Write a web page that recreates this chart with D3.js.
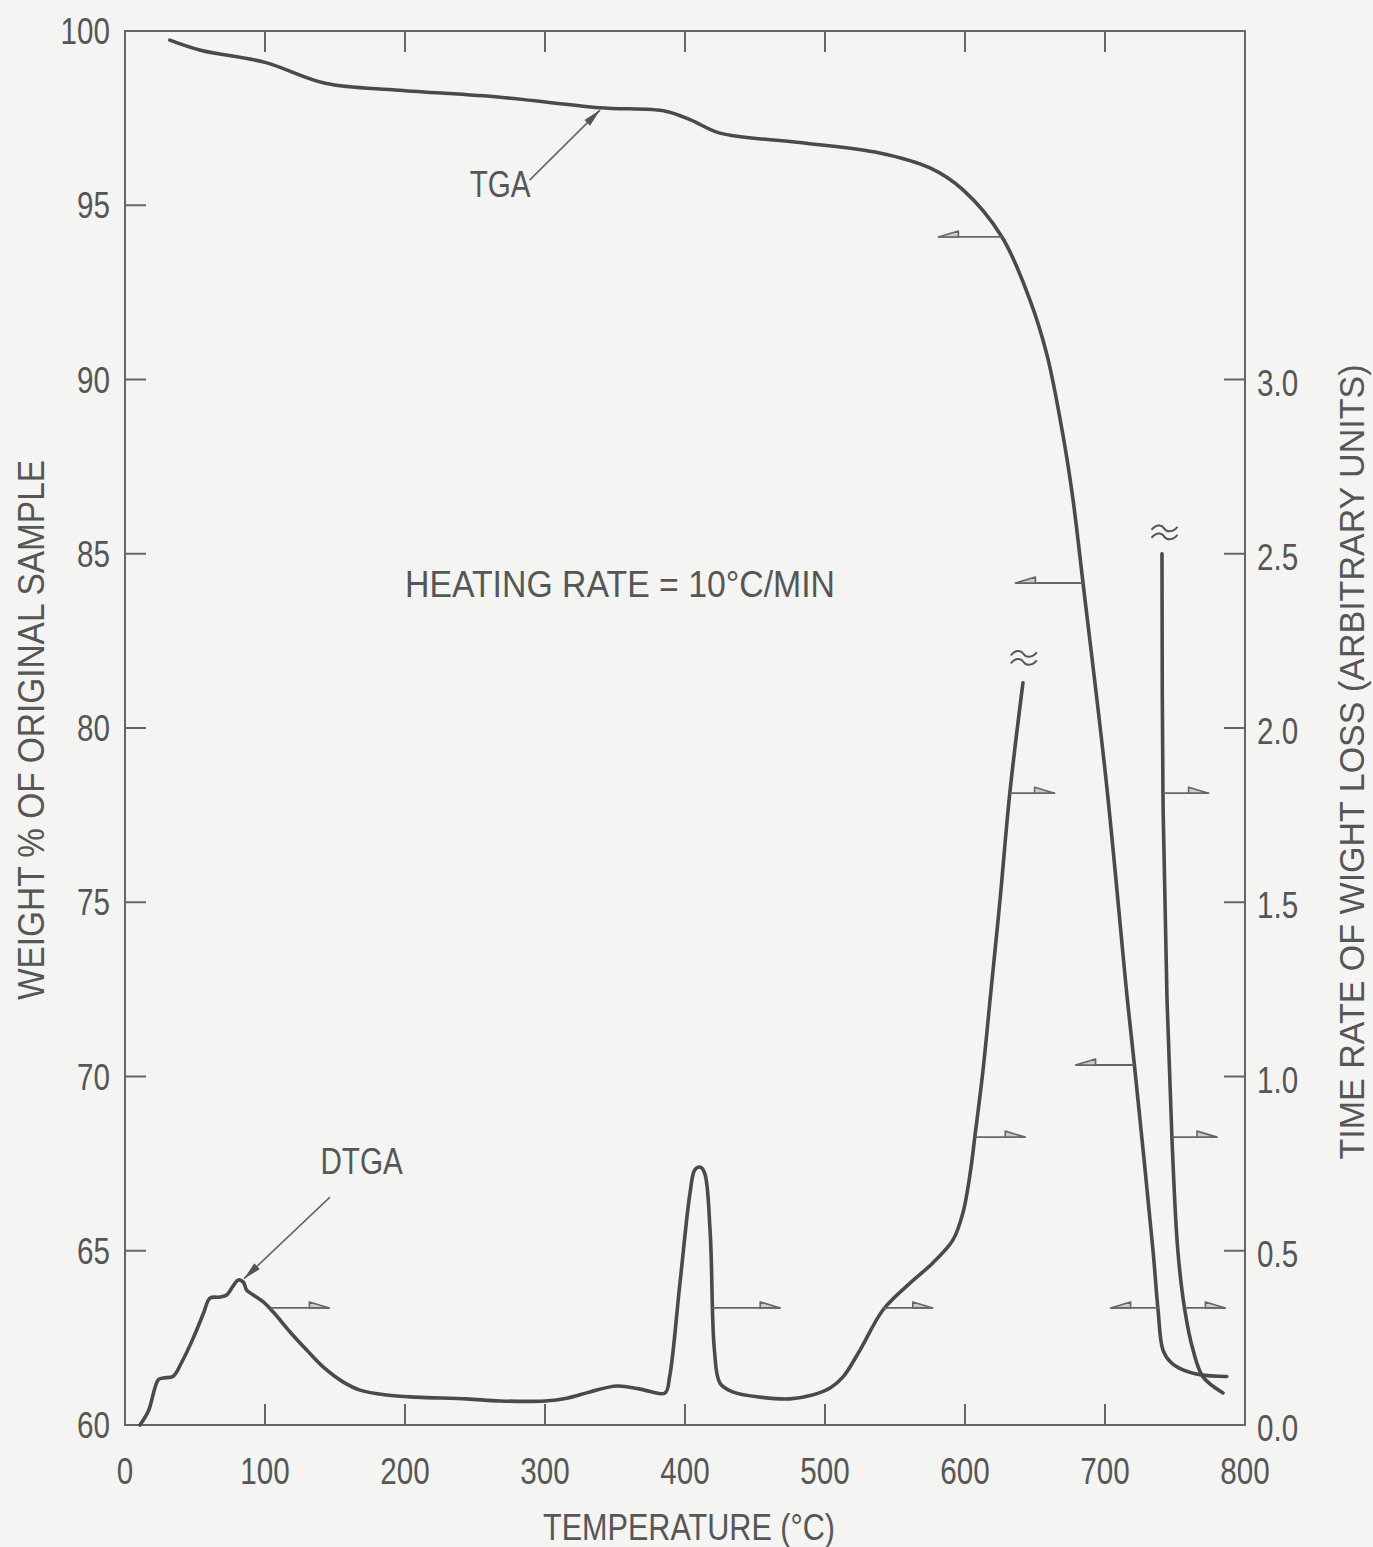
<!DOCTYPE html>
<html>
<head>
<meta charset="utf-8">
<script src="https://cdn.jsdelivr.net/npm/d3@7"></script>
<style>
  html, body { margin: 0; padding: 0; background: #f4f4f3; }
  svg { display: block; }
  text { font-family: "Liberation Sans", Arial, sans-serif; fill: #565656; }
</style>
</head>
<body>
<svg id="chart" width="1373" height="1547"></svg>
<script>
// ---------------- data ----------------
const tempTicks = [0, 100, 200, 300, 400, 500, 600, 700, 800];
const weightTicks = [60, 65, 70, 75, 80, 85, 90, 95, 100];
const rateTicks = [0.0, 0.5, 1.0, 1.5, 2.0, 2.5, 3.0];

// TGA curve: temperature (°C) vs weight % of original sample (left axis)
const tgaTemp   = [32, 54, 100, 143, 196, 268, 339, 386, 404, 425, 482, 539, 575, 598.6, 626.4, 646.4, 658.6, 670, 677, 684.3, 701, 716, 721, 734.3, 737.9, 741.4, 747, 755.7, 767.9, 787];
const tgaWeight = [99.74, 99.45, 99.1, 98.5, 98.3, 98.1, 97.8, 97.7, 97.45, 97.07, 96.8, 96.5, 96.07, 95.44, 94.09, 92.28, 90.7, 88.4, 86.6, 84.16, 78.42, 72.2, 70.33, 65.0, 63.3, 62.15, 61.8, 61.58, 61.44, 61.39];

// DTGA curve, first segment (right axis, time rate of weight loss)
const dtgaTemp1 = [10.7, 16.7, 23.8, 27.4, 34.5, 40.5, 48.8, 56, 60.7, 67.9, 72.6, 77.4, 80.9, 84.5, 86.9, 91.7, 98.8, 105.9, 117.9, 129.8, 141.7, 156, 167.9, 187, 208, 244, 268, 300, 315.7, 332, 351.4, 367.9, 385.7, 389, 396.4, 403.6, 407, 410.7, 414, 418, 421, 425, 434, 453.6, 475, 491, 503.6, 512.9, 525, 541.4, 560.7, 577, 591.4, 598.6, 603.6, 607, 612.9, 617.9, 625, 632, 641.4];
const dtgaRate1 = [0.0, 0.04, 0.13, 0.135, 0.14, 0.18, 0.25, 0.32, 0.364, 0.367, 0.373, 0.40, 0.416, 0.41, 0.387, 0.373, 0.353, 0.324, 0.267, 0.215, 0.166, 0.123, 0.10, 0.086, 0.08, 0.075, 0.069, 0.069, 0.077, 0.095, 0.112, 0.103, 0.092, 0.138, 0.407, 0.666, 0.732, 0.74, 0.723, 0.551, 0.215, 0.12, 0.095, 0.08, 0.075, 0.086, 0.106, 0.138, 0.215, 0.33, 0.407, 0.465, 0.531, 0.61, 0.72, 0.826, 1.019, 1.22, 1.506, 1.813, 2.13];
// DTGA curve, second segment (after the break)
const dtgaTemp2 = [740.7, 741.4, 744.3, 747.9, 752, 757, 762.9, 770, 784.3];
const dtgaRate2 = [2.5, 1.81, 1.22, 0.815, 0.502, 0.33, 0.215, 0.138, 0.092];

// direction arrows: T where the line leaves the curve, T of the tip, level
const tgaArrowsT0 = [626.4, 684.3, 721, 737.9];
const tgaArrowsT1 = [581, 636, 679, 704];
const tgaArrowsW  = [94.09, 84.16, 70.33, 63.36];
const dtgaArrowsT0 = [104, 419, 541, 607, 632, 741.4, 748, 757];
const dtgaArrowsT1 = [146, 468, 577, 643, 664, 774, 780, 786];
const dtgaArrowsR  = [0.336, 0.336, 0.336, 0.826, 1.813, 1.813, 0.826, 0.336];

// break marks (≈) at the top of DTGA segments
const breakT = [642, 742.5];
const breakR = [2.2, 2.56];

// ---------------- drawing ----------------
const svg = d3.select("#chart");
const L = 125, R = 1245, T = 31, B = 1425;
const x = d3.scaleLinear().domain([0, 800]).range([L, R]);
const yW = d3.scaleLinear().domain([60, 100]).range([B, T]);
const yR = d3.scaleLinear().domain([0, 4]).range([B, T]);

const axisColor = "#666";
const lineColor = "#4a4a4a";
const SX = 0.8; // horizontal condensing of the typewriter-like lettering

function label(px, py, str, anchor) {
  return svg.append("text")
    .attr("transform", `translate(${px},${py}) scale(${SX},1)`)
    .attr("text-anchor", anchor).attr("font-size", 37).text(str);
}

// frame
svg.append("rect").attr("x", L).attr("y", T).attr("width", R - L).attr("height", B - T)
  .attr("fill", "none").attr("stroke", axisColor).attr("stroke-width", 2);

const tickLen = 21;
// bottom & top ticks (inside)
svg.append("g").selectAll("line").data(tempTicks.slice(1, -1)).join("line")
  .attr("x1", d => x(d)).attr("x2", d => x(d)).attr("y1", B).attr("y2", B - tickLen)
  .attr("stroke", axisColor).attr("stroke-width", 2);
svg.append("g").selectAll("line").data(tempTicks.slice(1, -1)).join("line")
  .attr("x1", d => x(d)).attr("x2", d => x(d)).attr("y1", T).attr("y2", T + tickLen)
  .attr("stroke", axisColor).attr("stroke-width", 2);
tempTicks.forEach(d => label(x(d), 1484, d, "middle"));

// left axis
svg.append("g").selectAll("line").data(weightTicks.slice(1, -1)).join("line")
  .attr("x1", L).attr("x2", L + tickLen).attr("y1", d => yW(d)).attr("y2", d => yW(d))
  .attr("stroke", axisColor).attr("stroke-width", 2);
weightTicks.forEach(d => label(110, yW(d) + 13, d, "end"));

// right axis
svg.append("g").selectAll("line").data(rateTicks.slice(1)).join("line")
  .attr("x1", R - tickLen).attr("x2", R).attr("y1", d => yR(d)).attr("y2", d => yR(d))
  .attr("stroke", axisColor).attr("stroke-width", 2);
rateTicks.forEach(d => label(1257, yR(d) + 16, d.toFixed(1), "start"));

// axis titles
svg.append("text").attr("x", 689).attr("y", 1540).attr("text-anchor", "middle")
  .attr("font-size", 37).attr("textLength", 292).attr("lengthAdjust", "spacingAndGlyphs")
  .text("TEMPERATURE (°C)");
svg.append("text").attr("transform", "translate(44,730) rotate(-90)").attr("text-anchor", "middle")
  .attr("font-size", 37).attr("textLength", 540).attr("lengthAdjust", "spacingAndGlyphs")
  .text("WEIGHT  % OF ORIGINAL SAMPLE");
svg.append("text").attr("transform", "translate(1364,762) rotate(-90)").attr("text-anchor", "middle")
  .attr("font-size", 35).attr("textLength", 795).attr("lengthAdjust", "spacingAndGlyphs")
  .text("TIME RATE OF WIGHT LOSS (ARBITRARY UNITS)");

// heating rate note
svg.append("text").attr("x", 620).attr("y", 597).attr("text-anchor", "middle")
  .attr("font-size", 37).attr("textLength", 430).attr("lengthAdjust", "spacingAndGlyphs")
  .text("HEATING RATE = 10°C/MIN");

// curves
const curve = d3.curveCatmullRom.alpha(0.5);
const tgaData = tgaTemp.map((t, i) => [t, tgaWeight[i]]);
const dtga1 = dtgaTemp1.map((t, i) => [t, dtgaRate1[i]]);
const dtga2 = dtgaTemp2.map((t, i) => [t, dtgaRate2[i]]);
const lineW = d3.line().x(d => x(d[0])).y(d => yW(d[1])).curve(curve);
const lineR = d3.line().x(d => x(d[0])).y(d => yR(d[1])).curve(curve);
[[tgaData, lineW], [dtga1, lineR], [dtga2, lineR]].forEach(([d, gen]) => {
  svg.append("path").datum(d).attr("d", gen).attr("fill", "none")
    .attr("stroke", lineColor).attr("stroke-width", 3.6)
    .attr("stroke-linejoin", "round").attr("stroke-linecap", "round");
});

// direction arrows (line + half arrowhead)
function halfArrow(x0, x1, y) {
  const dir = x1 < x0 ? 1 : -1;
  const g = svg.append("g");
  g.append("line").attr("x1", x0).attr("x2", x1).attr("y1", y).attr("y2", y)
    .attr("stroke", "#666").attr("stroke-width", 1.8);
  g.append("path").attr("d", `M${x1},${y} L${x1 + dir * 20},${y - 6} L${x1 + dir * 20},${y} Z`)
    .attr("fill", "#ccc").attr("stroke", "#666").attr("stroke-width", 1.6)
    .attr("stroke-linejoin", "round");
}
tgaArrowsT0.forEach((t, i) => halfArrow(x(t), x(tgaArrowsT1[i]), yW(tgaArrowsW[i])));
dtgaArrowsT0.forEach((t, i) => halfArrow(x(t), x(dtgaArrowsT1[i]), yR(dtgaArrowsR[i])));

// break marks: two short wavy strokes
breakT.forEach((t, i) => {
  const cx = x(t), cy = yR(breakR[i]);
  [-4, 4].forEach(off => {
    const y0 = cy + off;
    svg.append("path")
      .attr("d", `M${cx - 13},${y0 + 1} C${cx - 7},${y0 - 6} ${cx - 2},${y0 - 3} ${cx},${y0} S${cx + 8},${y0 + 4} ${cx + 13},${y0 - 2}`)
      .attr("fill", "none").attr("stroke", "#555").attr("stroke-width", 2);
  });
});

// labels with pointer arrows
function pointer(xa, ya, xb, yb) {
  svg.append("line").attr("x1", xa).attr("y1", ya).attr("x2", xb).attr("y2", yb)
    .attr("stroke", "#666").attr("stroke-width", 1.6);
  const ang = Math.atan2(yb - ya, xb - xa);
  const len = 18, w = 4;
  const bx = xb - len * Math.cos(ang), by = yb - len * Math.sin(ang);
  const px = -Math.sin(ang) * w, py = Math.cos(ang) * w;
  svg.append("path").attr("d", `M${xb},${yb} L${bx + px},${by + py} L${bx - px},${by - py} Z`)
    .attr("fill", "#555");
}
label(x(268), yW(95.6) + 13, "TGA", "middle");
pointer(x(289), yW(95.72), x(339.3), yW(97.73));
label(x(169), yR(0.72), "DTGA", "middle");
pointer(x(146.4), yR(0.654), x(85), yR(0.42));
</script>
</body>
</html>
